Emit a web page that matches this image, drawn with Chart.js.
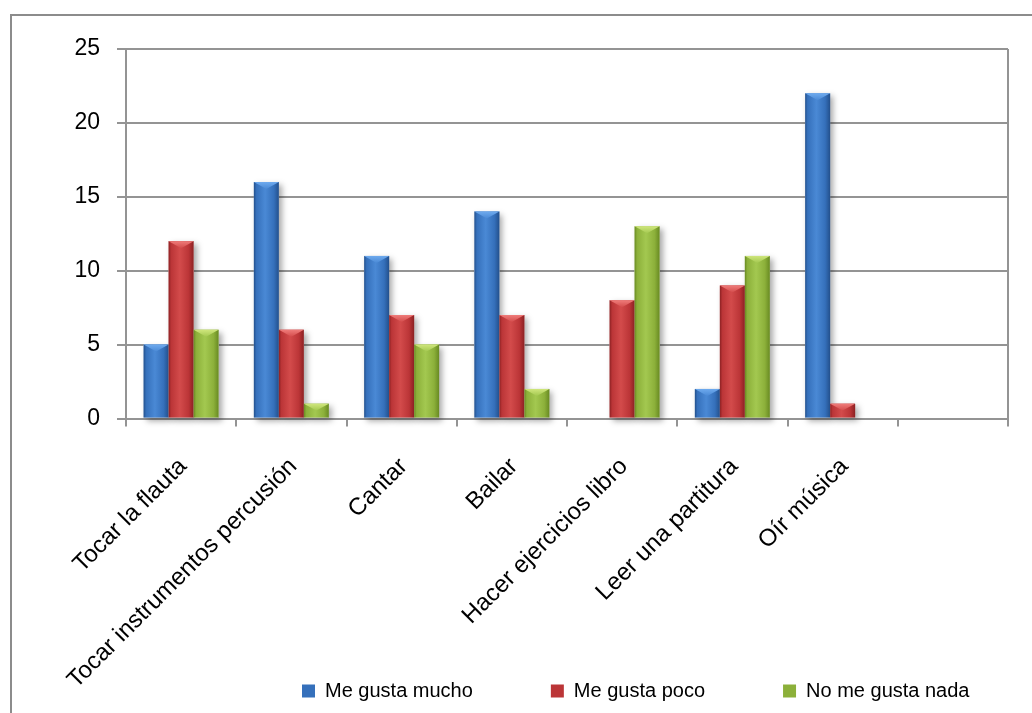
<!DOCTYPE html>
<html>
<head>
<meta charset="utf-8">
<script src="https://cdn.jsdelivr.net/npm/chart.js@4.4.0/dist/chart.umd.min.js"></script>
<style>
  html, body { margin: 0; padding: 0; background: #fff; overflow: hidden; }
  #frame {
    position: absolute; left: 10px; top: 14px; width: 1100px; height: 800px;
    border-top: 2px solid #8c8c8c; border-left: 2px solid #8c8c8c;
  }
  #myChart { position: absolute; left: 0; top: 0; }
</style>
</head>
<body>
<div id="frame"></div>
<canvas id="myChart" width="1032" height="713"></canvas>
<script>
"use strict";

const categories = [
  "Tocar la flauta",
  "Tocar instrumentos percusión",
  "Cantar",
  "Bailar",
  "Hacer ejercicios libro",
  "Leer una partitura",
  "Oír música",
  ""
];
const seriesNames = ["Me gusta mucho", "Me gusta poco", "No me gusta nada"];
const mucho = [5, 16, 11, 14, 0, 2, 22, null];
const poco = [12, 6, 7, 7, 8, 9, 1, null];
const nada = [6, 1, 5, 2, 13, 11, 0, null];
const yTicks = [0, 5, 10, 15, 20, 25];

// dark edge / body / highlight / bevel top for each series
const shades = [
  { dark: "#23508c", mid: "#3570bb", light: "#4a89d5", bevel: "#6eaaee" },
  { dark: "#8c2123", mid: "#bb3537", light: "#d34b4b", bevel: "#ef7c7a" },
  { dark: "#688a22", mid: "#8cb03a", light: "#a3c850", bevel: "#cfe67c" }
];

const gridGray = "#949494";
const fontFamily = "'Liberation Sans', Arial, sans-serif";

// paints the bevelled look over each bar, using the bar geometry chart.js computed
const bevelBars = {
  id: "bevelBars",
  afterDatasetsDraw(chart) {
    const ctx = chart.ctx;
    const bars = [];
    chart.data.datasets.forEach(function (ds, i) {
      const meta = chart.getDatasetMeta(i);
      meta.data.forEach(function (el, j) {
        if (!ds.data[j]) return;
        const p = el.getProps(["x", "y", "base", "width"], true);
        bars.push({
          left: p.x - p.width / 2,
          right: p.x + p.width / 2,
          top: Math.min(p.y, p.base),
          bottom: Math.max(p.y, p.base),
          shade: shades[i]
        });
      });
    });

    ctx.save();
    ctx.shadowColor = "rgba(0,0,0,0.35)";
    ctx.shadowBlur = 6;
    ctx.shadowOffsetX = 3;
    ctx.shadowOffsetY = 3;
    ctx.fillStyle = "#ffffff";
    bars.forEach(function (b) {
      ctx.fillRect(b.left, b.top, b.right - b.left, b.bottom - b.top);
    });
    ctx.restore();

    bars.forEach(function (b) {
      const w = b.right - b.left;
      const h = b.bottom - b.top;
      const g = ctx.createLinearGradient(b.left, 0, b.right, 0);
      g.addColorStop(0, b.shade.dark);
      g.addColorStop(0.1, b.shade.mid);
      g.addColorStop(0.45, b.shade.light);
      g.addColorStop(0.8, b.shade.mid);
      g.addColorStop(1, b.shade.dark);
      ctx.fillStyle = g;
      ctx.fillRect(b.left, b.top, w, h);

      const bh = Math.min(7, h / 2);
      const tg = ctx.createLinearGradient(0, b.top, 0, b.top + bh);
      tg.addColorStop(0, b.shade.bevel);
      tg.addColorStop(1, b.shade.light);
      ctx.fillStyle = tg;
      ctx.beginPath();
      ctx.moveTo(b.left, b.top);
      ctx.lineTo(b.right, b.top);
      ctx.lineTo(b.left + w / 2, b.top + bh);
      ctx.closePath();
      ctx.fill();
    });
  }
};

// legend sits lower and further right than the default bottom placement
const legendPlace = {
  id: "legendPlace",
  afterLayout(chart) {
    const lg = chart.legend;
    lg.left = 224;
    lg.right = 1300;
    lg.top = 603;
    lg.bottom = 713;
  }
};

const chartConfig = {
  type: "bar",
  data: {
    labels: categories,
    datasets: [
      { label: seriesNames[0], data: mucho, backgroundColor: shades[0].mid },
      { label: seriesNames[1], data: poco, backgroundColor: shades[1].mid },
      { label: seriesNames[2], data: nada, backgroundColor: shades[2].mid }
    ]
  },
  options: {
    responsive: false,
    animation: false,
    devicePixelRatio: 1,
    layout: { padding: { top: 49, right: 24, bottom: 0, left: 0 } },
    datasets: {
      bar: { categoryPercentage: 0.68, barPercentage: 1, borderWidth: 0 }
    },
    scales: {
      x: {
        grid: {
          offset: true,
          drawOnChartArea: true,
          color: function (c) { return c.type === "scale" ? gridGray : "transparent"; },
          tickColor: gridGray,
          tickLength: 8,
          lineWidth: 2
        },
        border: { color: gridGray, width: 2 },
        ticks: {
          autoSkip: false,
          minRotation: 45,
          maxRotation: 45,
          padding: 26,
          labelOffset: 2,
          color: "#000",
          font: { family: fontFamily, size: 24 }
        },
        afterFit: function (scale) { scale.height = 293.5; }
      },
      y: {
        min: 0,
        max: 25,
        afterBuildTicks: function (scale) {
          scale.ticks = yTicks.map(function (v) { return { value: v }; });
        },
        grid: { color: gridGray, lineWidth: 2, tickLength: 9 },
        border: { color: gridGray, width: 2 },
        ticks: {
          padding: 17,
          color: "#000",
          font: { family: fontFamily, size: 23 }
        },
        afterFit: function (scale) { scale.width = 126; }
      }
    },
    plugins: {
      tooltip: { enabled: false },
      legend: {
        position: "bottom",
        align: "start",
        maxHeight: 1,
        labels: {
          boxWidth: 13,
          boxHeight: 13,
          padding: 78,
          color: "#000",
          font: { family: fontFamily, size: 20 }
        }
      }
    }
  },
  plugins: [bevelBars, legendPlace]
};

const canvas = document.getElementById("myChart");
const myChart = new Chart(canvas.getContext("2d"), chartConfig);
</script>
</body>
</html>
